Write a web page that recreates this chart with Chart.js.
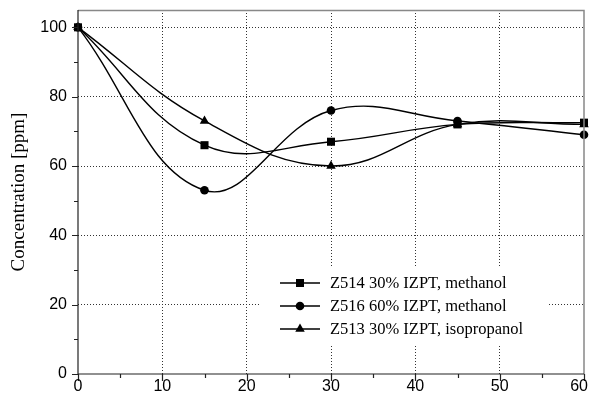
<!DOCTYPE html>
<html>
<head>
<meta charset="utf-8">
<script src="https://cdn.jsdelivr.net/npm/chart.js@4/dist/chart.umd.min.js"></script>
<style>
  html,body{margin:0;padding:0;background:#fff;}
  #wrap{width:591px;height:402px;}
</style>
</head>
<body>
<div id="wrap"><canvas id="c" width="591" height="402"></canvas></div>
<script>
// data
const times = [0, 15, 30, 45, 60];
const z514 = [100, 66, 67, 72, 72.5];
const z516 = [100, 53, 76, 73, 69];
const z513 = [100, 73, 60, 72, 72];
const seriesNames = ['Z514 30% IZPT, methanol', 'Z516 60% IZPT, methanol', 'Z513 30% IZPT, isopropanol'];
const xTicks = [0, 10, 20, 30, 40, 50, 60];
const yTicks = [0, 20, 40, 60, 80, 100];

function pts(arr){ return arr.map((v,i)=>({x:times[i], y:v})); }

function mk(label, data, style, r){
  return { label, data:pts(data), borderColor:'#000', backgroundColor:'#000', borderWidth:1.4,
    pointStyle:style, pointRadius:r, pointBorderWidth:0, tension:0.4, fill:false, clip:false };
}

function marker(ctx, style, r, x, y){
  ctx.beginPath();
  if(style==='rect'){ const s=r*Math.SQRT1_2; ctx.rect(x-s,y-s,2*s,2*s); }
  else if(style==='circle'){ ctx.arc(x,y,r,0,Math.PI*2); }
  else { const a=Math.PI/6; ctx.moveTo(x, y-r); ctx.lineTo(x+Math.cos(a)*r, y+Math.sin(a)*r); ctx.lineTo(x-Math.cos(a)*r, y+Math.sin(a)*r); ctx.closePath(); }
  ctx.fill();
}

// frame, ticks, x labels, legend
const deco = {
  id:'deco',
  beforeDatasetsDraw(chart){
    const {ctx} = chart;
    ctx.save();
    ctx.fillStyle='#fff'; ctx.fillRect(260, 268, 287, 77); // legend box covers grid
    ctx.restore();
  },
  afterDraw(chart){
    const {ctx, chartArea:a, scales:{x,y}} = chart;
    ctx.save();
    ctx.strokeStyle='#888'; ctx.lineWidth=1.5;
    ctx.beginPath(); ctx.moveTo(a.left, a.top+0.5); ctx.lineTo(a.right, a.top+0.5); ctx.lineTo(a.right, a.bottom); ctx.stroke();
    ctx.strokeStyle='#222'; ctx.lineWidth=1.2;
    ctx.beginPath(); ctx.moveTo(a.left, a.top); ctx.lineTo(a.left, a.bottom); ctx.lineTo(a.right, a.bottom); ctx.stroke();
    ctx.beginPath();
    for(let v=0; v<=100; v+=10){ const py=Math.round(y.getPixelForValue(v))+0.5; ctx.moveTo(a.left-(v%20?4:6), py); ctx.lineTo(a.left, py); }
    for(let v=0; v<=60; v+=5){ const px=Math.round(x.getPixelForValue(v))+0.5; ctx.moveTo(px, a.bottom); ctx.lineTo(px, a.bottom+(v%10?4:7)); }
    ctx.stroke();
    // x tick labels (last one kept inside the canvas like the original)
    ctx.font='16px "Liberation Sans", Arial, sans-serif';
    ctx.fillStyle='#000'; ctx.textAlign='center'; ctx.textBaseline='middle';
    xTicks.forEach(v=>{
      const w = ctx.measureText(String(v)).width;
      const px = Math.min(x.getPixelForValue(v), chart.width - w/2 - 3);
      ctx.fillText(String(v), px, a.bottom + 13);
    });
    // legend
    const ds = chart.data.datasets;
    ctx.font='16.5px "Liberation Serif", "Times New Roman", serif';
    ctx.textAlign='left'; ctx.strokeStyle='#000'; ctx.lineWidth=1.4;
    ds.forEach((d,i)=>{
      const yy = 283 + i*23;
      ctx.beginPath(); ctx.moveTo(280, yy); ctx.lineTo(320, yy); ctx.stroke();
      marker(ctx, d.pointStyle, d.pointRadius, 300, yy);
      ctx.fillText(d.label, 330, yy+1);
    });
    ctx.restore();
  }
};

new Chart(document.getElementById('c'), {
  type:'line',
  data:{ datasets:[
    mk(seriesNames[0], z514, 'rect', 5.7),
    mk(seriesNames[1], z516, 'circle', 4.3),
    mk(seriesNames[2], z513, 'triangle', 5.5)
  ]},
  options:{
    responsive:false, animation:false, devicePixelRatio:1,
    layout:{ padding:{ left:0, top:10, right:7, bottom:0 }, autoPadding:false },
    plugins:{ legend:{ display:false }, tooltip:{ enabled:false } },
    scales:{
      x:{ type:'linear', min:0, max:60,
        afterBuildTicks(s){ s.ticks = xTicks.map(v=>({value:v})); },
        afterFit(s){ s.height = 28; s.paddingLeft = 0; s.paddingRight = 0; },
        border:{ display:false, dash:[1,2] },
        grid:{ lineWidth:1, drawTicks:false, color:c=> (c.tick && (c.tick.value===0||c.tick.value===60)) ? 'rgba(0,0,0,0)' : '#333' },
        ticks:{ display:false }
      },
      y:{ type:'linear', min:0, max:105,
        afterBuildTicks(s){ s.ticks = yTicks.map(v=>({value:v})); },
        afterFit(s){ s.width = 78; s.paddingTop = 0; s.paddingBottom = 0; },
        border:{ display:false, dash:[1,2] },
        grid:{ lineWidth:1, drawTicks:false, color:c=> (c.tick && c.tick.value===0) ? 'rgba(0,0,0,0)' : '#333' },
        ticks:{ padding:11, color:'#000', font:{ family:'"Liberation Sans", Arial, sans-serif', size:16 } },
        title:{ display:true, text:'Concentration [ppm]', color:'#000', padding:{ top:8, bottom:0 },
          font:{ family:'"Liberation Serif", "Times New Roman", serif', size:19 } }
      }
    }
  },
  plugins:[deco]
});
</script>
</body>
</html>
